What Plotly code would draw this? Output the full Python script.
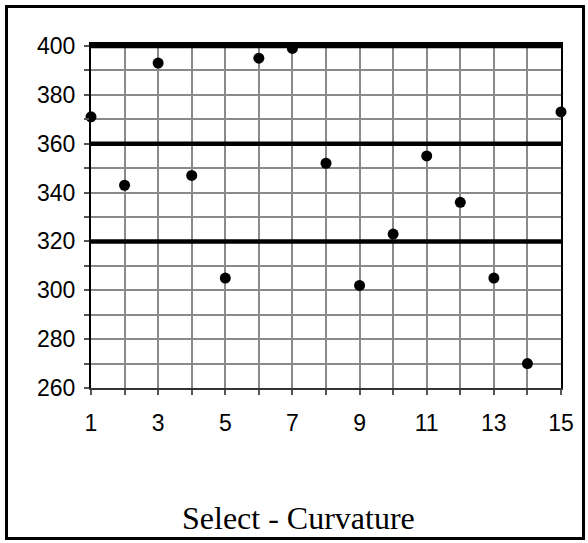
import plotly.graph_objects as go

# Sample number and measured curvature
samples = list(range(1, 16))
curvature = [371, 343, 393, 347, 305, 395, 399, 352, 302, 323, 355, 336, 305, 270, 373]

# Reference levels drawn as heavy horizontal rules
ref_levels = [320, 360, 400]

title_text = "Select - Curvature"

W, H = 588, 543
ML, MR, MT, MB = 91, 27, 46, 155
PW, PH = W - ML - MR, H - MT - MB

fig = go.Figure()

fig.add_trace(go.Scatter(
    x=samples, y=curvature, mode="markers",
    marker=dict(color="black", size=11, line=dict(width=0)),
    cliponaxis=False, showlegend=False,
))

for lvl in ref_levels:
    fig.add_shape(type="line", xref="x", yref="y",
                  x0=samples[0], x1=samples[-1] + 0.08, y0=lvl, y1=lvl,
                  line=dict(color="black", width=4.5), layer="above")

# The top rule sits on the plot edge, so it is also drawn as a heavy top axis line
fig.add_trace(go.Scatter(x=[samples[0]], y=[ref_levels[-1]], xaxis="x2",
                         mode="markers", marker=dict(opacity=0),
                         hoverinfo="skip", showlegend=False))

# Outer frame around the whole chart
def px_x(p):
    return (p - ML) / PW

def px_y(p):
    return (H - MB - p) / PH

fig.add_shape(type="rect", xref="paper", yref="paper",
              x0=px_x(6.5), x1=px_x(583.5), y0=px_y(538.5), y1=px_y(6.5),
              line=dict(color="black", width=3), fillcolor="rgba(0,0,0,0)")

fig.add_annotation(text=title_text, xref="paper", yref="paper",
                   x=px_x(298), y=px_y(518), xanchor="center", yanchor="middle",
                   showarrow=False,
                   font=dict(family="Liberation Serif, Times New Roman, serif",
                             size=32, color="black"))

grid_color = "#8a8a8a"
tick_font = dict(family="Liberation Sans, Arial, sans-serif", size=23, color="black")

fig.update_xaxes(
    range=[1, 15], tick0=1, dtick=2, tickmode="linear",
    showgrid=True, gridcolor=grid_color, gridwidth=1.5,
    ticks="outside", ticklen=5, tickcolor="#555", tickwidth=1.5,
    minor=dict(dtick=1, tick0=1, showgrid=True, gridcolor=grid_color, gridwidth=1.5,
               ticks="outside", ticklen=5, tickcolor="#555", tickwidth=1.5),
    showline=True, linecolor="#333", linewidth=2,
    zeroline=False, ticklabelstandoff=8,
    tickfont=tick_font,
)

fig.update_yaxes(
    range=[260, 400], tick0=260, dtick=20, tickmode="linear",
    showgrid=True, gridcolor=grid_color, gridwidth=1.5,
    ticks="outside", ticklen=5, tickcolor="#555", tickwidth=1.5,
    minor=dict(dtick=10, tick0=260, showgrid=True, gridcolor=grid_color, gridwidth=1.5,
               ticks="outside", ticklen=5, tickcolor="#555", tickwidth=1.5),
    showline=True, linecolor="black", linewidth=2, mirror=True,
    zeroline=False, ticklabelstandoff=4,
    tickfont=tick_font,
)

fig.update_layout(
    width=W, height=H,
    margin=dict(l=ML, r=MR, t=MT, b=MB),
    paper_bgcolor="white", plot_bgcolor="white",
    showlegend=False,
    xaxis2=dict(overlaying="x", side="top", matches="x", showline=True,
                linecolor="black", linewidth=4, showgrid=False, ticks="",
                showticklabels=False, zeroline=False),
)

fig.write_html("out.html")
